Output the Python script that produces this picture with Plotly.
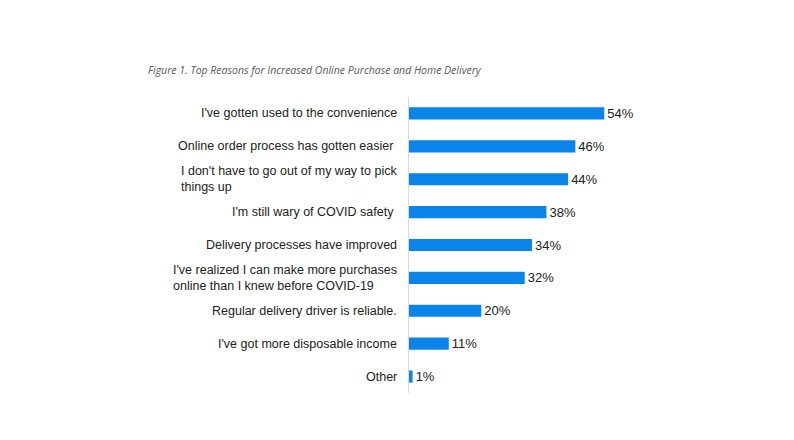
import plotly.graph_objects as go

reasons = [
    "I've gotten used to the convenience",
    "Online order process has gotten easier ",
    "I don't have to go out of my way to pick<br>things up",
    "I'm still wary of COVID safety ",
    "Delivery processes have improved",
    "I've realized I can make more purchases<br>online than I knew before COVID-19",
    "Regular delivery driver is reliable.",
    "I've got more disposable income",
    "Other",
]
shares = [54, 46, 44, 38, 34, 32, 20, 11, 1]

title_text = "Figure 1. Top Reasons for Increased Online Purchase and Home Delivery"

fig = go.Figure(
    go.Bar(
        x=shares,
        y=reasons,
        orientation="h",
        marker=dict(color="#0a84e8", line=dict(width=0)),
        text=[f"{v}%" for v in shares],
        textposition="outside",
        constraintext="none",
        textfont=dict(family="Liberation Sans, Arial", size=13, color="#222222"),
        cliponaxis=False,
    )
)

# category labels: block right-aligned to the axis, lines left-aligned
for r in reasons:
    fig.add_annotation(
        x=0, xref="paper", y=r, yref="y",
        text=r, showarrow=False,
        xanchor="right", align="left", xshift=-10,
        font=dict(family="Liberation Sans, Arial", size=12.5, color="#222222"),
    )

# page body adds 8px margin, so the figure is a little smaller than the window
fig.update_layout(
    width=786,
    height=432,
    margin=dict(l=401, r=168, t=89, b=47),
    paper_bgcolor="white",
    plot_bgcolor="white",
    bargap=0.63,
    showlegend=False,
    title=dict(
        text=title_text,
        x=140 / 786, xref="container", xanchor="left",
        y=1 - 62 / 432, yref="container", yanchor="middle",
        font=dict(family="Open Sans", size=10.5, color="#595959", style="italic"),
    ),
)
fig.update_xaxes(range=[0, 60], visible=False)
fig.update_yaxes(
    autorange="reversed",
    showticklabels=False,
    showgrid=False,
    showline=True,
    linecolor="#d9d9d9",
    linewidth=1,
    ticks="",
)

fig.write_html("out.html")
